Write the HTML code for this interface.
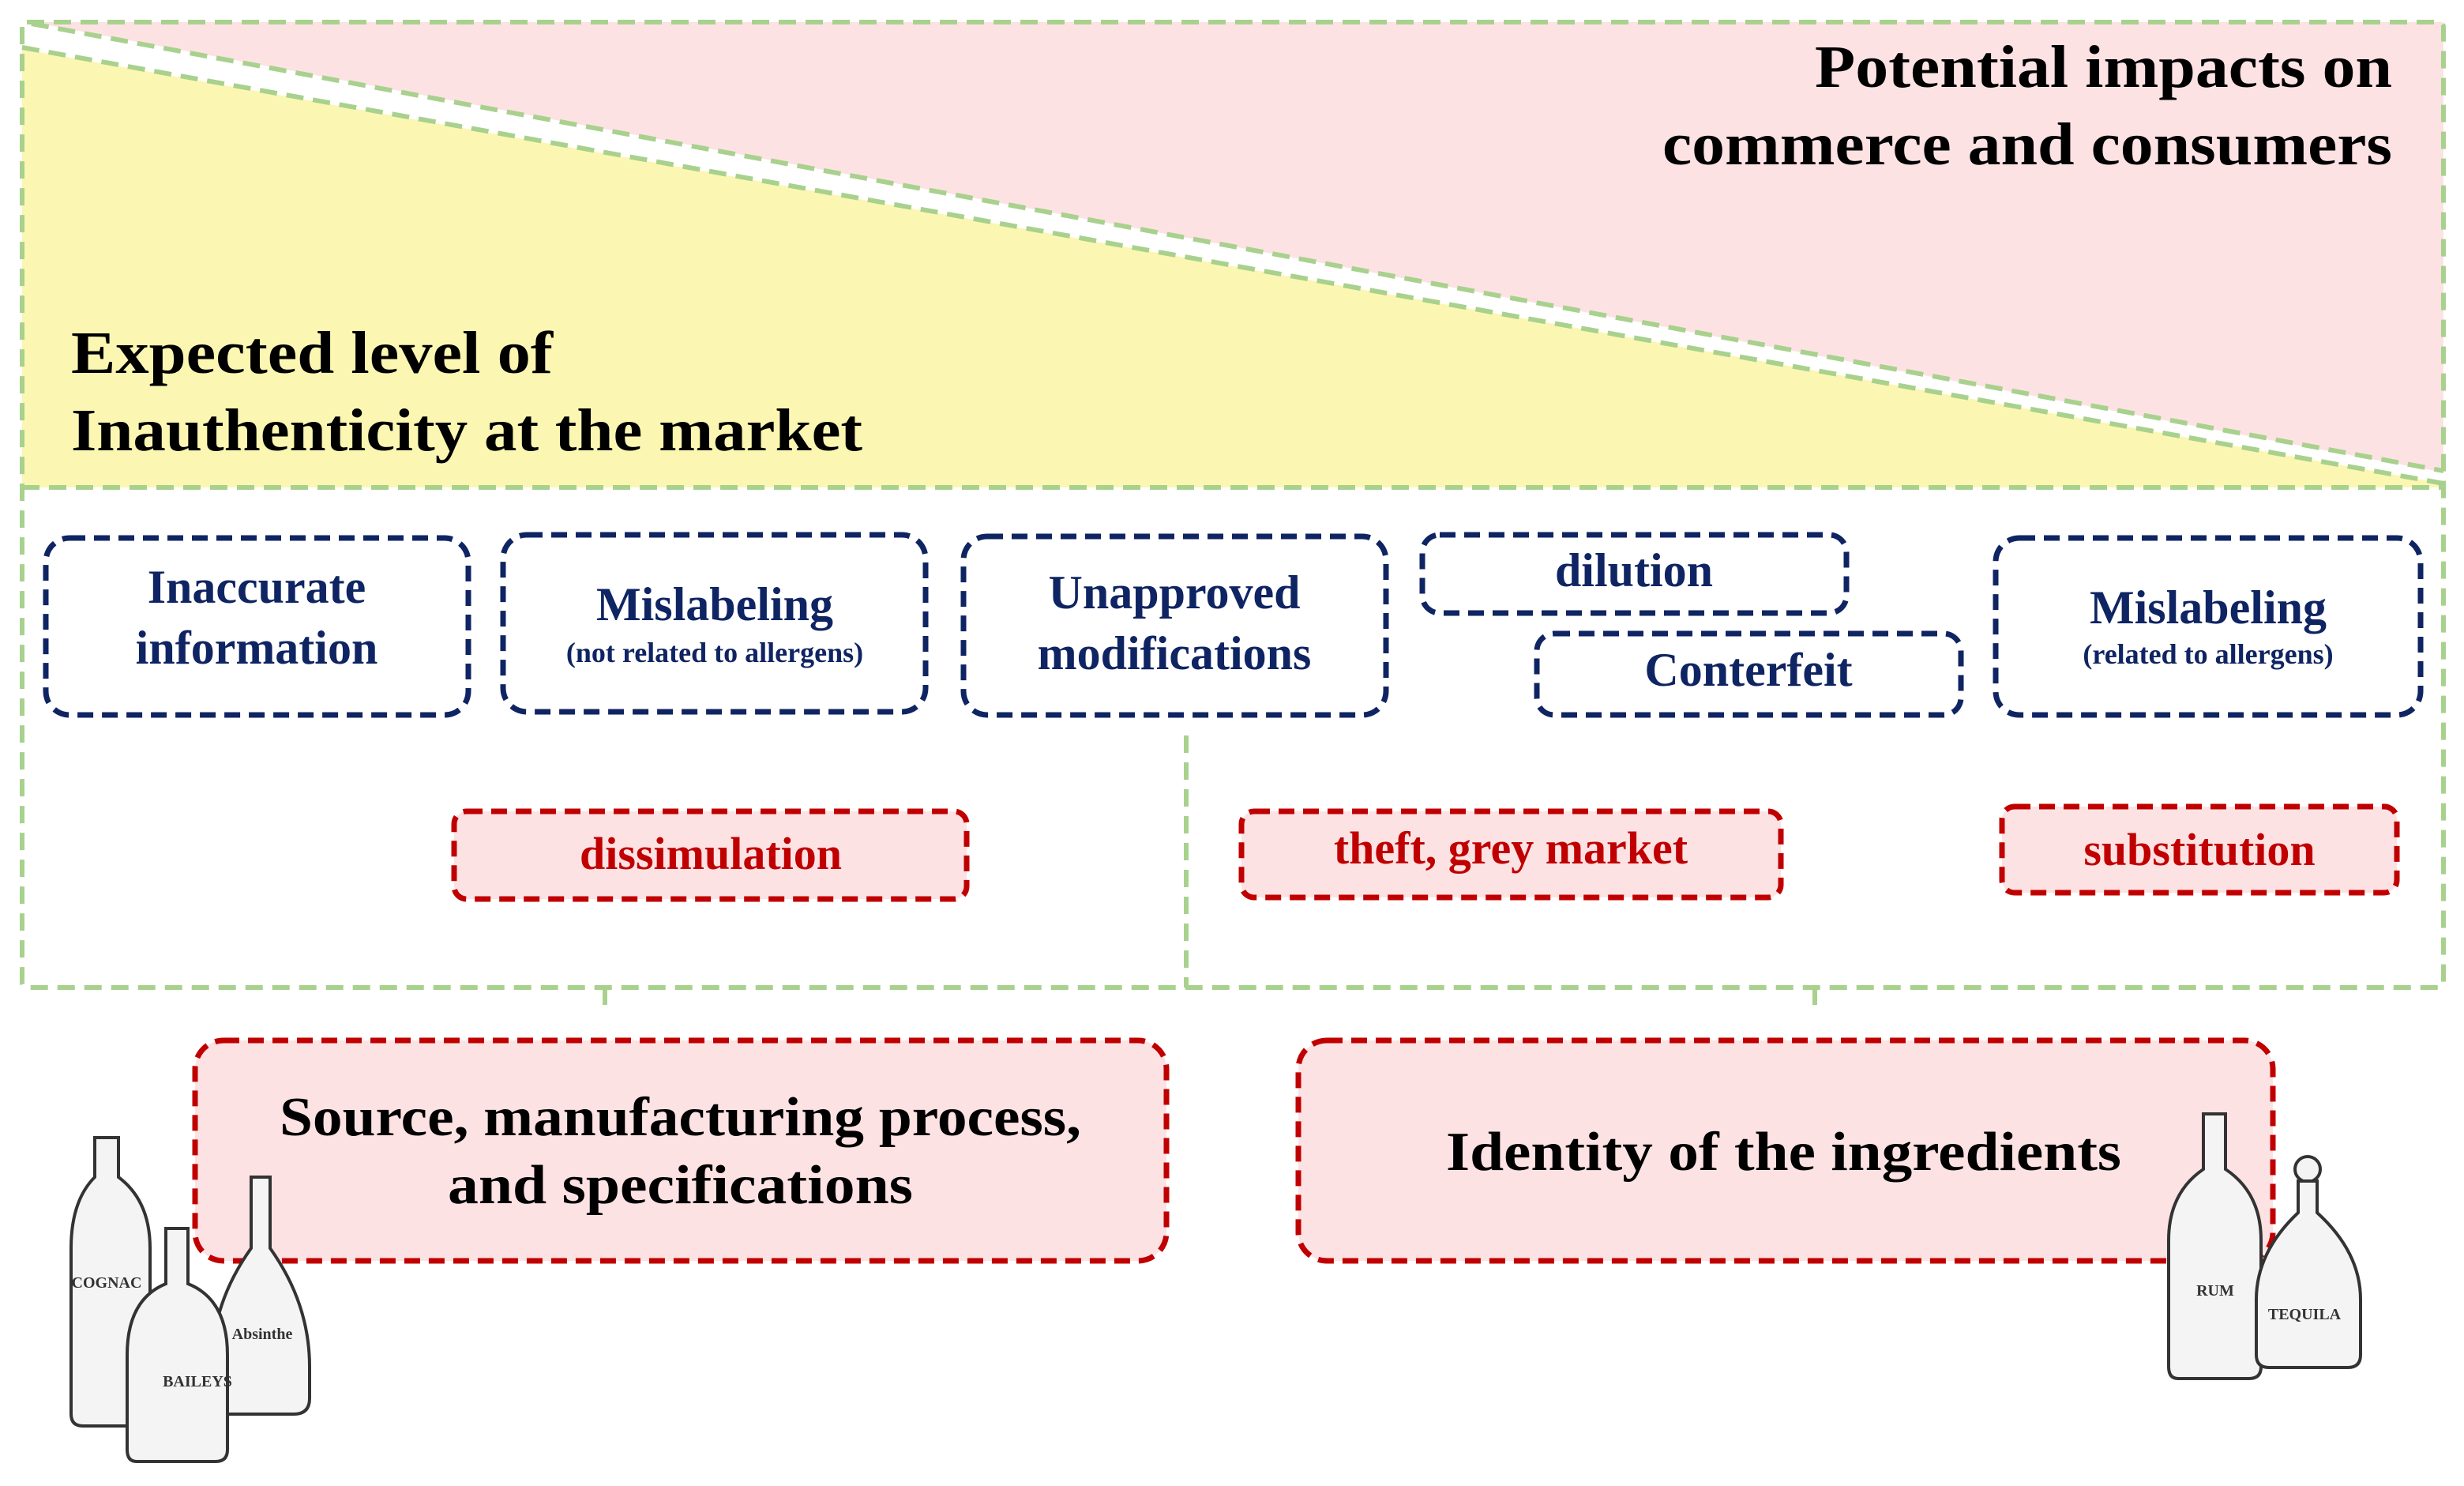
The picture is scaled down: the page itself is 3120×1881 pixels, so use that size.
<!DOCTYPE html>
<html><head><meta charset="utf-8"><style>
html,body{margin:0;padding:0;background:#fff}
svg{display:block}
text{font-family:"Liberation Serif",serif;font-weight:bold}
</style></head><body>
<svg width="3120" height="1881" viewBox="0 0 3120 1881" xmlns="http://www.w3.org/2000/svg">
<polygon points="40,28 3094,28 3094,598" fill="#fde2e4"/>
<polygon points="28,62 3094,612 3094,617 28,617" fill="#fbf7b2"/>
<g fill="none" stroke="#a9d18e" stroke-width="6" stroke-dasharray="22,12">
<rect x="28" y="28" width="3066" height="1222" rx="6"/>
<line x1="28" y1="617" x2="3094" y2="617"/>
<line x1="40" y1="30" x2="3094" y2="596"/>
<line x1="28" y1="60" x2="3094" y2="612"/>
<line x1="1502" y1="931" x2="1502" y2="1250"/>
<line x1="766" y1="1250" x2="766" y2="1272" stroke-dasharray="none"/>
<line x1="2298" y1="1250" x2="2298" y2="1272" stroke-dasharray="none"/>
</g>
<text x="2298" y="110" font-size="76" textLength="731" lengthAdjust="spacingAndGlyphs" fill="#000">Potential impacts on</text>
<text x="2105" y="208" font-size="76" textLength="924" lengthAdjust="spacingAndGlyphs" fill="#000">commerce and consumers</text>
<text x="90" y="472" font-size="76" textLength="610" lengthAdjust="spacingAndGlyphs" fill="#000">Expected level of</text>
<text x="90" y="570" font-size="76" textLength="1002" lengthAdjust="spacingAndGlyphs" fill="#000">Inauthenticity at the market</text>

<g fill="none" stroke="#0f2462" stroke-width="7" stroke-dasharray="20,11">
<rect x="58" y="681" width="535" height="224" rx="30"/>
<rect x="637" y="677" width="535" height="224" rx="30"/>
<rect x="1220" y="679" width="535" height="226" rx="30"/>
<rect x="1801" y="677" width="537" height="99" rx="22"/>
<rect x="1946" y="802" width="537" height="103" rx="22"/>
<rect x="2527" y="681" width="538" height="224" rx="30"/>
</g>
<g fill="#0f2462" text-anchor="middle">
<text x="325" y="763" font-size="60">Inaccurate</text>
<text x="325" y="840" font-size="60">information</text>
<text x="905" y="785" font-size="60">Mislabeling</text>
<text x="905" y="838" font-size="36">(not related to allergens)</text>
<text x="1487" y="770" font-size="60">Unapproved</text>
<text x="1487" y="847" font-size="60">modifications</text>
<text x="2069" y="742" font-size="60">dilution</text>
<text x="2214" y="868" font-size="60">Conterfeit</text>
<text x="2796" y="789" font-size="60">Mislabeling</text>
<text x="2796" y="840" font-size="36">(related to allergens)</text>
</g>

<g fill="#fde2e4" stroke="#c00000" stroke-width="7" stroke-dasharray="20,11">
<rect x="575" y="1027" width="649" height="111" rx="16"/>
<rect x="1572" y="1027" width="683" height="109" rx="16"/>
<rect x="2535" y="1021" width="500" height="109" rx="16"/>
<rect x="247" y="1317" width="1230" height="279" rx="36"/>
<rect x="1644" y="1317" width="1234" height="279" rx="36"/>
</g>
<g fill="#c00000" text-anchor="middle" font-size="58">
<text x="900" y="1100">dissimulation</text>
<text x="1913" y="1093">theft, grey market</text>
<text x="2785" y="1095">substitution</text>
</g>
<g fill="#000" font-size="70">
<text x="354" y="1437" textLength="1015" lengthAdjust="spacingAndGlyphs">Source, manufacturing process,</text>
<text x="567" y="1523" textLength="589" lengthAdjust="spacingAndGlyphs">and specifications</text>
<text x="1831" y="1481" textLength="855" lengthAdjust="spacingAndGlyphs">Identity of the ingredients</text>
</g>

<g fill="#f4f4f4" stroke="#333" stroke-width="4">
<path d="M120,1440 h30 v50 q40,30 40,90 v210 q0,15 -15,15 h-70 q-15,0 -15,-15 v-210 q0,-60 30,-90 z"/>
<path d="M318,1490 h24 v90 q50,70 50,150 v40 q0,20 -20,20 h-88 q-16,0 -16,-20 v-40 q0,-80 50,-150 z"/>
<path d="M210,1555 h28 v70 q50,20 50,90 v120 q0,15 -15,15 h-100 q-12,0 -12,-15 v-120 q0,-70 49,-90 z"/>
<path d="M2790,1410 h28 v70 q45,30 45,90 v160 q0,15 -15,15 h-90 q-12,0 -12,-15 v-160 q0,-60 44,-90 z"/>
<circle cx="2922" cy="1480" r="16"/>
<path d="M2910,1495 h24 v40 q55,50 55,110 v70 q0,16 -16,16 h-100 q-16,0 -16,-16 v-70 q0,-60 53,-110 z"/>
</g>
<g fill="#333" font-size="20" font-weight="normal" text-anchor="middle">
<text x="135" y="1630">COGNAC</text>
<text x="250" y="1755">BAILEYS</text>
<text x="332" y="1695">Absinthe</text>
<text x="2805" y="1640">RUM</text>
<text x="2918" y="1670">TEQUILA</text>
</g>
</svg>
</body></html>
